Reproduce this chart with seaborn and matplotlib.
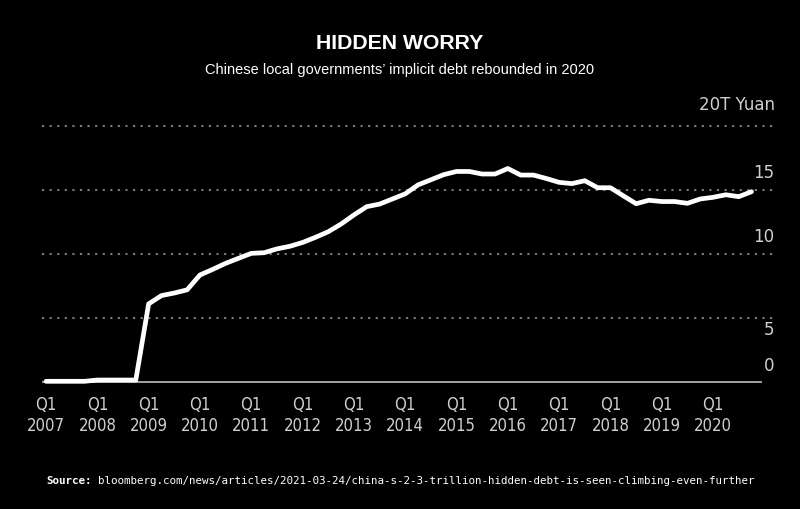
import matplotlib
matplotlib.use("Agg")
import matplotlib.pyplot as plt
import seaborn as sns
import pandas as pd

# Implicit debt of Chinese local governments, trillion yuan, quarterly Q1 2007 - Q4 2020
debt = [
    0.05, 0.05, 0.05, 0.05,     # 2007
    0.15, 0.15, 0.15, 0.15,     # 2008
    6.1, 6.75, 6.95, 7.2,       # 2009
    8.36, 8.8, 9.27, 9.66,      # 2010
    10.05, 10.1, 10.4, 10.6,    # 2011
    10.9, 11.3, 11.74, 12.34,   # 2012
    13.05, 13.7, 13.9, 14.3,    # 2013
    14.7, 15.4, 15.8, 16.2,     # 2014
    16.45, 16.45, 16.25, 16.25, # 2015
    16.68, 16.17, 16.17, 15.9,  # 2016
    15.6, 15.5, 15.73, 15.18,   # 2017
    15.18, 14.55, 13.93, 14.2,  # 2018
    14.1, 14.1, 13.96, 14.3,    # 2019
    14.43, 14.63, 14.48, 14.87, # 2020
]
years = list(range(2007, 2021))
quarters = [f"Q{q} {y}" for y in years for q in range(1, 5)]
tick_labels = [f"Q1\n{y}" for y in years]
y_ticks = [0, 5, 10, 15, 20]
y_tick_labels = ["0", "5", "10", "15", "20T Yuan"]

df = pd.DataFrame({"quarter": quarters, "debt": debt})
df["idx"] = range(len(df))

sns.set_style("dark", {"axes.facecolor": "black", "figure.facecolor": "black"})
plt.rcParams["font.family"] = ["Liberation Sans", "DejaVu Sans"]

fig = plt.figure(figsize=(8, 5.1), dpi=100, facecolor="black")
ax = fig.add_axes([0.0527, 0.2416, 0.914, 0.572])
ax.set_facecolor("black")

for v in y_ticks[1:]:
    ax.axhline(v, color="#8a8a8a", lw=1.3, ls=(0, (1.2, 3.0)), zorder=1)

sns.lineplot(data=df, x="idx", y="debt", color="white", lw=3.4, ax=ax,
             zorder=3, clip_on=False)

ax.set_xlim(-0.3, 56.7)
ax.set_ylim(-0.3, 22.5)
ax.set_xlabel("")
ax.set_ylabel("")
ax.grid(False)

for s in ["top", "right", "left"]:
    ax.spines[s].set_visible(False)
ax.spines["bottom"].set_position(("data", 0))
ax.spines["bottom"].set_bounds(-0.2, 55.7)
ax.spines["bottom"].set_color("#b0b0b0")
ax.spines["bottom"].set_linewidth(1.3)

ax.set_xticks(range(0, len(debt), 4))
ax.set_xticklabels(tick_labels, fontsize=12, linespacing=1.2,
                   family=["Liberation Sans Narrow", "DejaVu Sans"],
                   fontstretch="condensed")
ax.tick_params(axis="x", colors="#b0b0b0", length=6.5, width=1.2, pad=3,
               labelcolor="#d0d0d0")
ax.set_yticks([])

# y labels sit above the gridlines at the right edge
label_offsets = [12, -8, 13, 13, 16]
for v, lab, off in zip(y_ticks, y_tick_labels, label_offsets):
    ax.annotate(lab, xy=(56.8, v), xytext=(0, off), textcoords="offset points",
                ha="right", va="center", color="#d0d0d0", fontsize=12,
                family="DejaVu Sans", annotation_clip=False)

fig.text(0.5, 0.915, "HIDDEN WORRY", ha="center", va="center", color="white",
         fontsize=15.3, fontweight="bold")
fig.text(0.5, 0.863, "Chinese local governments\u2019 implicit debt rebounded in 2020",
         ha="center", va="center", color="white", fontsize=10.5)

fig.text(0.0575, 0.057, "Source:", ha="left", va="center", color="white",
         fontsize=7.8, family="DejaVu Sans Mono", fontweight="bold")
fig.text(0.0575 + 8 * 6.48 / 800, 0.057,
         "bloomberg.com/news/articles/2021-03-24/china-s-2-3-trillion-hidden-debt-is-seen-climbing-even-further",
         ha="left", va="center", color="white", fontsize=7.8,
         family="DejaVu Sans Mono")

fig.savefig("out.png", dpi=100, facecolor="black")
